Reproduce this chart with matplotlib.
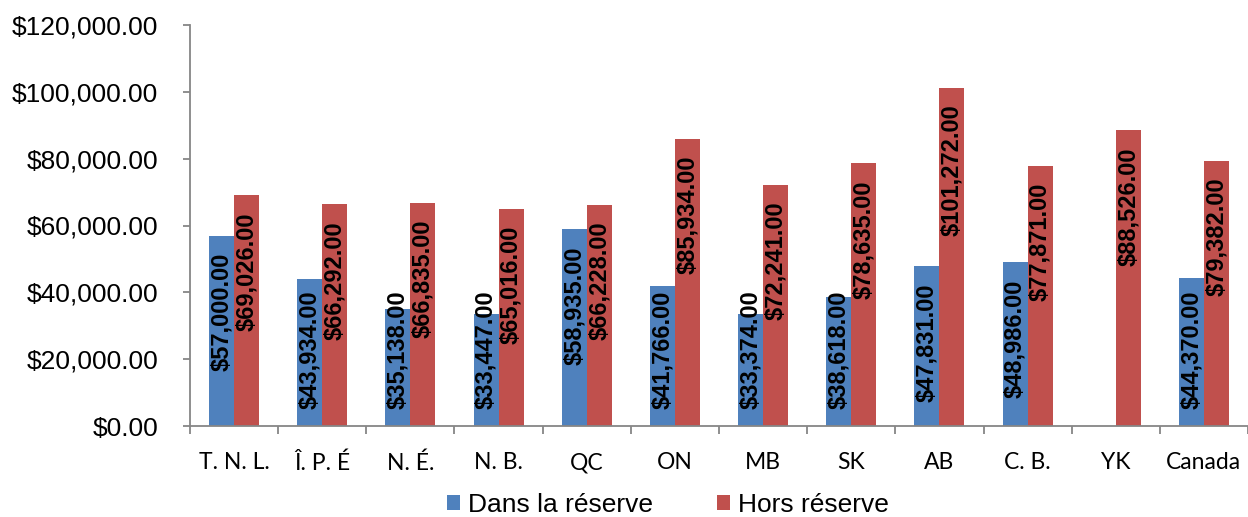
import numpy as np
import matplotlib.pyplot as plt
from matplotlib.ticker import FuncFormatter

categories = ["T. N. L.", "Î. P. É", "N. É.", "N. B.", "QC", "ON", "MB", "SK",
              "AB", "C. B.", "YK", "Canada"]
dans_reserve = [57000, 43934, 35138, 33447, 58935, 41766, 33374, 38618,
                47831, 48986, np.nan, 44370]
hors_reserve = [69026, 66292, 66835, 65016, 66228, 85934, 72241, 78635,
                101272, 77871, 88526, 79382]
series_names = ["Dans la réserve", "Hors réserve"]

BLUE = "#4F81BD"
RED = "#C0504D"
AXIS = "#868686"

fig = plt.figure(figsize=(12.48, 5.17), dpi=100)
ax = fig.add_axes([190 / 1248, 1 - 426 / 517, 1 - 190 / 1248, (426 - 25) / 517])

x = np.arange(len(categories))
w = 0.284
b1 = ax.bar(x - w / 2, dans_reserve, w, color=BLUE, label=series_names[0])
b2 = ax.bar(x + w / 2, hors_reserve, w, color=RED, label=series_names[1])

ax.set_xlim(-0.5, len(categories) - 0.5)
ax.set_ylim(0, 120000)
ax.set_yticks(np.arange(0, 120001, 20000))
ax.yaxis.set_major_formatter(FuncFormatter(lambda v, p: f"${v:,.2f}"))
ax.set_xticks(np.arange(len(categories) + 1) - 0.5, minor=True)
ax.set_xticks(x)
ax.set_xticklabels(categories, fontfamily="Lato", fontsize=16.5)
ax.tick_params(axis="x", which="major", length=0, pad=19)
ax.tick_params(axis="x", which="minor", length=6, color=AXIS, width=1.3)
ax.tick_params(axis="y", length=5, color=AXIS, width=1.3, pad=18,
               labelsize=19)
for lab in ax.get_yticklabels():
    lab.set_fontfamily("Liberation Sans")

for side in ["top", "right"]:
    ax.spines[side].set_visible(False)
for side in ["left", "bottom"]:
    ax.spines[side].set_color(AXIS)
    ax.spines[side].set_linewidth(1.3)

# etiquettes verticales, "inside end" mais jamais sous la base
renderer = fig.canvas.get_renderer()
to_px = ax.transData
pad_px = 17
base_px = to_px.transform((0, 0))[1]
for xs, vals in [(x - w / 2, dans_reserve), (x + w / 2, hors_reserve)]:
    for xi, v in zip(xs, vals):
        if np.isnan(v):
            continue
        t = ax.text(xi, v, f"${v:,.2f}", rotation=90, ha="center", va="top",
                    fontsize=17, fontweight="bold", fontfamily="Liberation Sans",
                    color="black")
        top_px = to_px.transform((xi, v))[1] - pad_px
        L = t.get_window_extent(renderer).height
        if top_px - L < base_px + pad_px:
            top_px = base_px + pad_px + L
        t.set_position((xi, to_px.inverted().transform((0, top_px))[1]))

fig.legend(handles=[b1, b2], loc="center", bbox_to_anchor=(668 / 1248, 0.024),
           ncol=2, frameon=False, prop={"family": "Liberation Sans", "size": 19},
           handlelength=0.5, handleheight=0.5, handletextpad=0.3,
           columnspacing=2.4)

fig.savefig("out.png", dpi=100)
